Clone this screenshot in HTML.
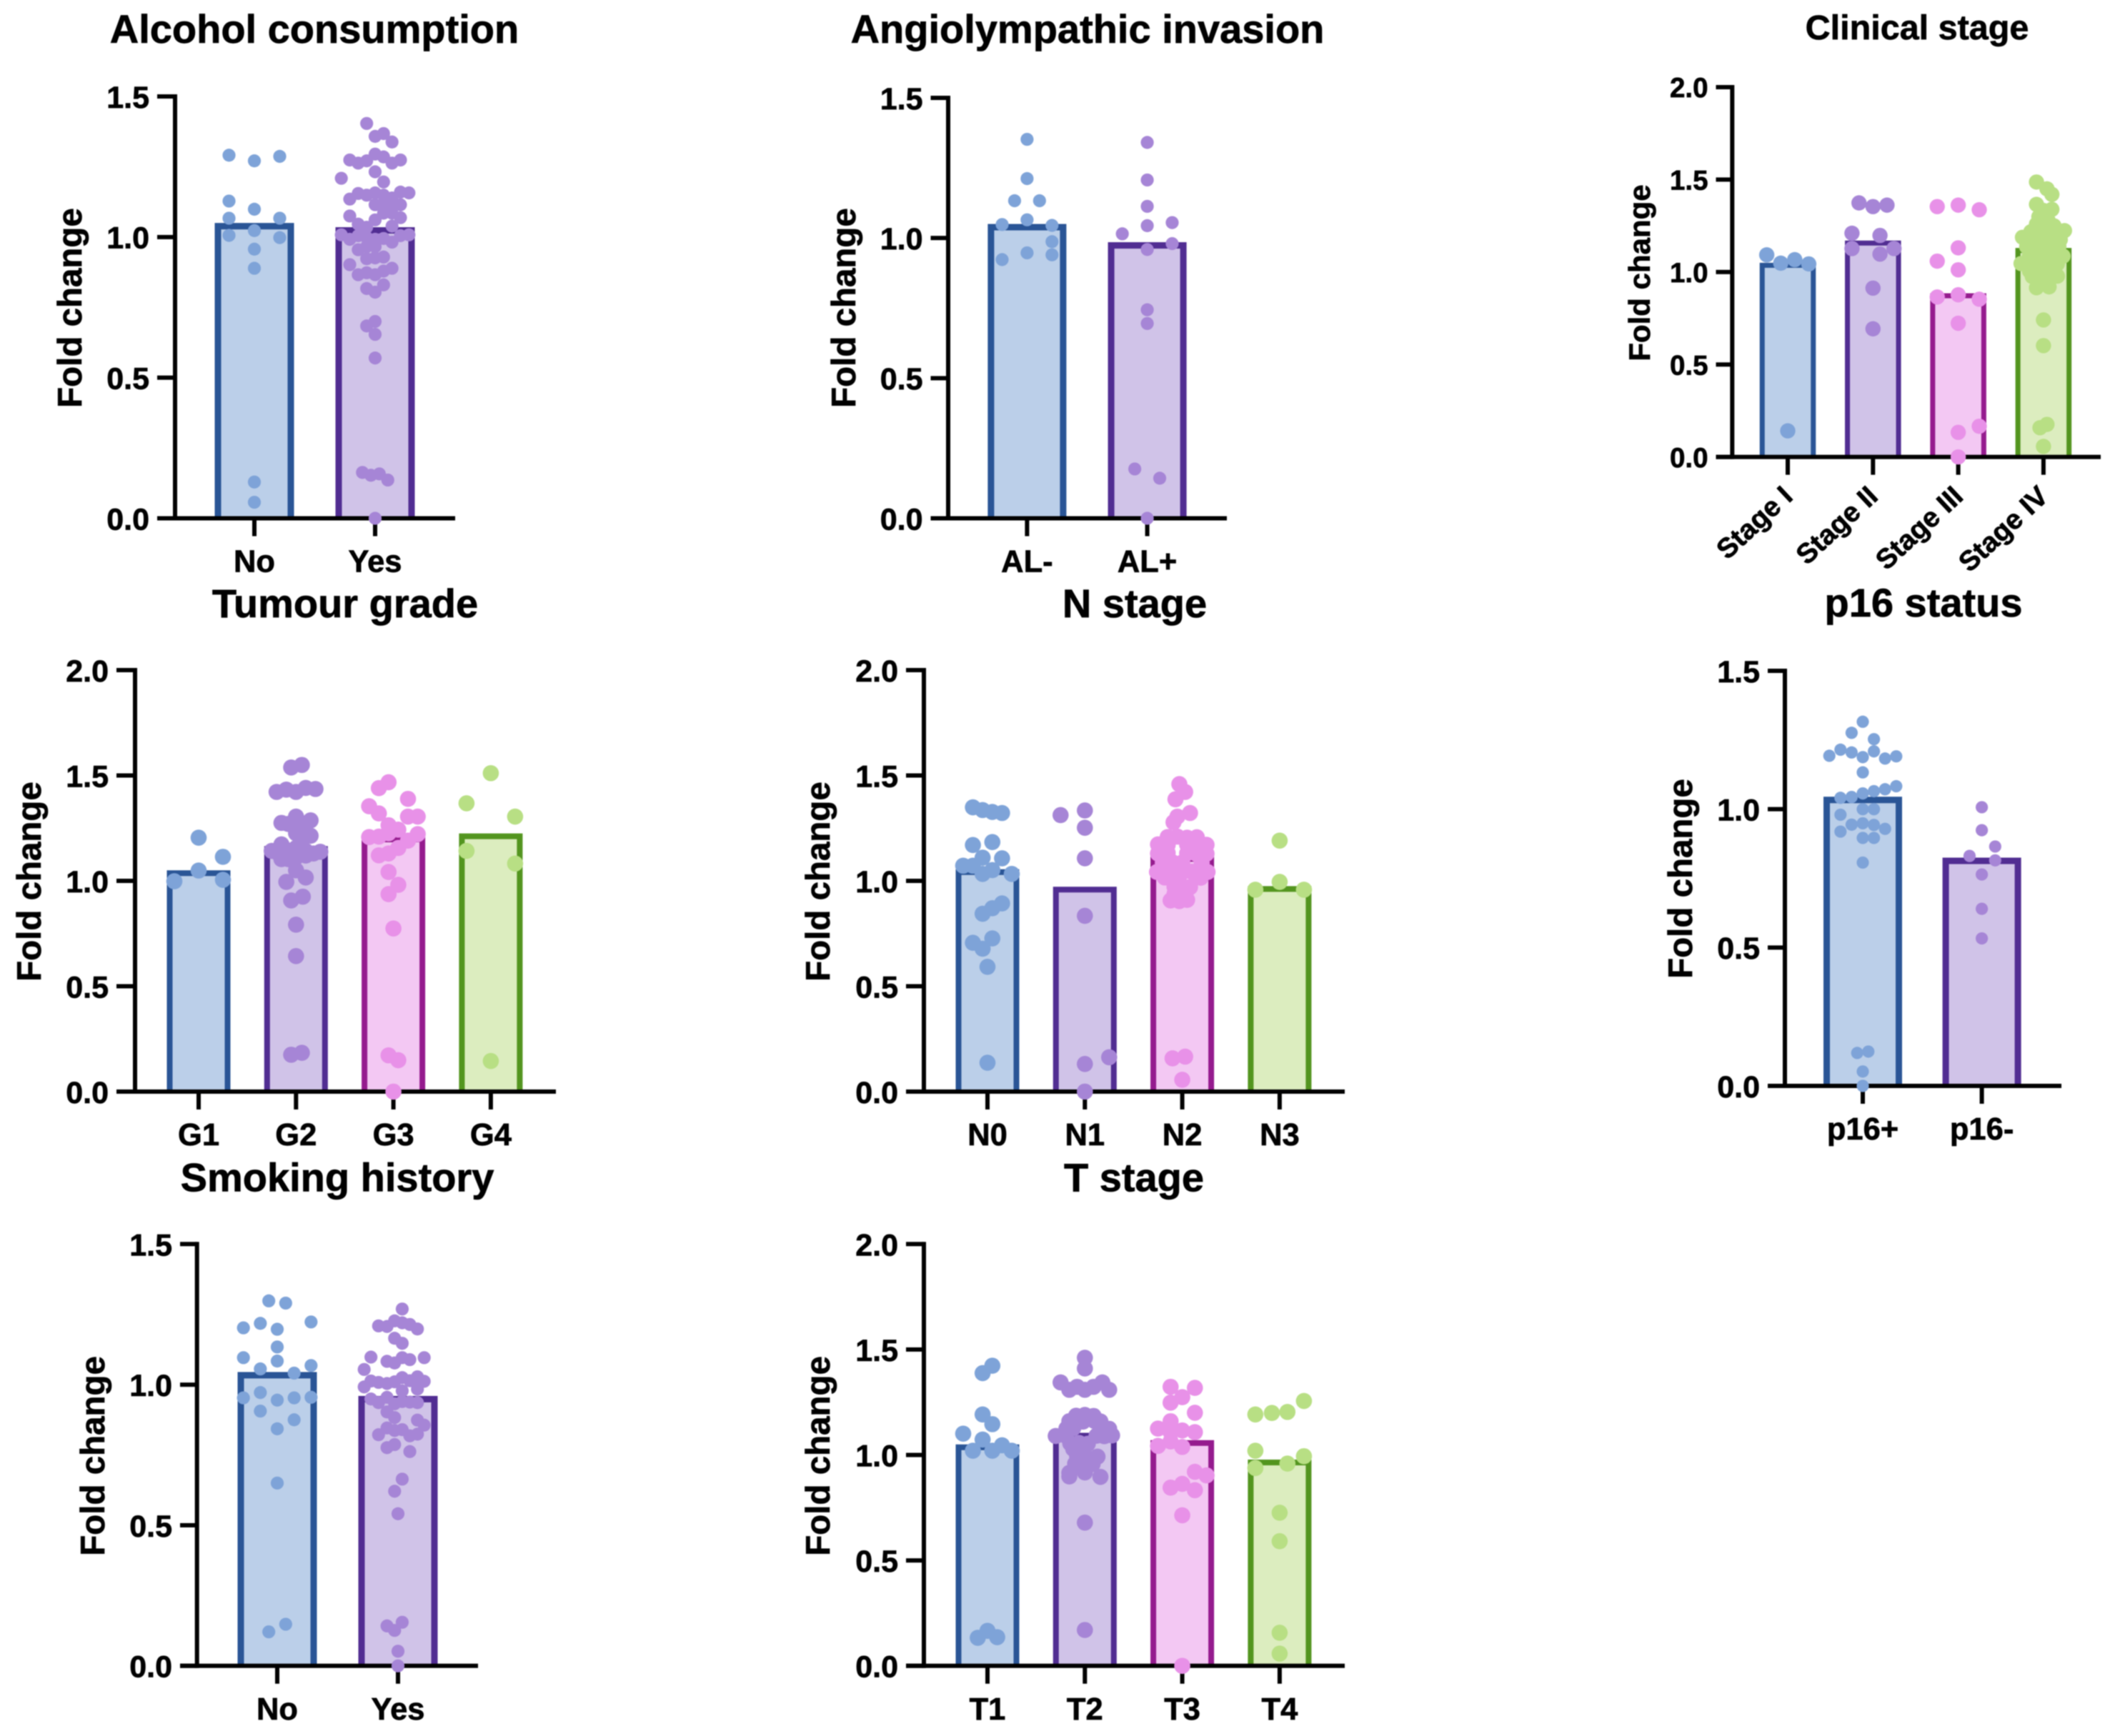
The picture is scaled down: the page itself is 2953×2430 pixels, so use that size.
<!DOCTYPE html>
<html lang="en">
<head>
<meta charset="utf-8">
<title>Fold change by clinical parameter</title>
<style>
html,body{margin:0;padding:0;background:#fff;}
#figure{display:block;width:2953px;height:2430px;filter:blur(0.9px);font-family:"Liberation Sans",Arial,sans-serif;font-weight:bold;fill:#000;}
#figure text{stroke:#000;stroke-width:0.7px;}
</style>
</head>
<body>
<svg id="figure" xmlns="http://www.w3.org/2000/svg" width="2953" height="2430" viewBox="0 0 2953 2430"></svg>
<script>
/* ---------- shared axis tick arrays ---------- */
const ticksTo15 = [0, 0.5, 1.0, 1.5];
const ticksTo20 = [0, 0.5, 1.0, 1.5, 2.0];
const yAxisLabel = "Fold change";

/* ---------- Alcohol consumption ---------- */
const alcoholCategories = ["No", "Yes"];
const alcoholMeans = [1.05, 1.035];
const alcoholNoValues = [1.291,1.271,1.287,1.128,1.099,1.067,1.067,1.023,1.006,0.998,0.957,0.889,0.129,0.057];
const alcoholNoSlots = [-3,0,3,-3,0,-3,3,0,-3,3,0,0,0,0];
const alcoholYesValues = [1.404,1.358,1.368,1.338,1.274,1.263,1.271,1.295,1.285,1.263,1.274,1.209,1.232,1.196,1.135,1.155,1.149,1.157,1.149,1.139,1.160,1.157,1.115,1.119,1.105,1.115,1.075,1.085,1.085,1.069,1.061,1.046,1.035,1.039,1.008,0.992,1.005,0.998,0.992,0.995,0.982,1.005,1.008,0.955,0.966,0.966,0.923,0.926,0.929,0.902,0.866,0.873,0.866,0.879,0.889,0.817,0.804,0.830,0.684,0.700,0.654,0.570,0.163,0.153,0.158,0.136,0];
const alcoholYesSlots = [-1,0,1,2,-3,-2,-1,0,1,2,3,-4,0,1,-3,-2,-1,0,1,2,3,4,0,1,2,3,-3,1,2,3,0,-2,-1,2,-4,-3,-2,-1,0,1,2,3,4,-2,-1,0,-1,0,1,-3,-2,-1,0,1,2,-1,0,1,-1,0,0,0,-1.5,-0.5,0.5,1.5,0];

/* ---------- Angiolympathic invasion ---------- */
const invasionCategories = ["AL-", "AL+"];
const invasionMeans = [1.05, 0.985];
const invasionNegValues = [1.352,1.212,1.133,1.133,1.065,1.048,1.045,0.987,0.94,0.947,0.923];
const invasionNegSlots = [0,0,-1,1,0,-2,2,2,2,0,-2];
const invasionPosValues = [1.341,1.207,1.113,1.044,1.055,1.015,0.98,0.959,0.744,0.695,0.176,0.143,0];
const invasionPosSlots = [0,0,0,0,2,-2,2,0,0,0,-1,1,0];

/* ---------- Clinical stage ---------- */
const clinicalCategories = ["Stage I", "Stage II", "Stage III", "Stage IV"];
const clinicalMeans = [1.05, 1.17, 0.885, 1.13];
const clinicalS1Values = [1.093,1.048,1.067,1.044,0.141];
const clinicalS1Slots = [-1.5,-0.5,0.5,1.5,0];
const clinicalS2Values = [1.374,1.354,1.362,1.21,1.198,1.127,1.127,1.097,0.913,0.693];
const clinicalS2Slots = [-1,0,1,-1.5,0.5,-1.5,1.5,0.5,0,0];
const clinicalS3Values = [1.354,1.362,1.337,1.131,1.059,1.012,0.865,0.877,0.853,0.723,0.166,0.133,0];
const clinicalS3Slots = [-1.5,0,1.5,0,-1.5,0,-1.5,0,1.5,0,1.5,0,0];
const clinicalS4Values = [1.487,1.45,1.42,1.366,1.339,1.333,1.299,1.279,1.259,1.262,1.25,1.224,1.218,1.215,1.219,1.188,1.178,1.176,1.178,1.175,1.137,1.14,1.135,1.138,1.087,1.085,1.088,1.086,1.046,1.05,1.044,1.048,1.045,1.006,1.01,1.004,1.008,0.976,0.98,0.974,0.978,0.915,0.92,0.741,0.602,0.176,0.158,0.057];
const clinicalS4Slots = [-0.5,0.25,0.6,-0.5,0.6,0,-0.33,0.33,-0.5,0.2,0.75,1.5,-0.9,0.1,0.9,-1.5,-1,0,0.7,1.2,-1.2,-0.4,0.4,1.1,-1,0,0.6,1.4,-1.6,-1,-0.3,0.4,1,-1,-0.4,0.2,0.8,-0.8,-0.2,0.4,1,-0.5,0.4,0,0,0.25,-0.25,0];

/* ---------- Tumour grade ---------- */
const gradeCategories = ["G1", "G2", "G3", "G4"];
const gradeMeans = [1.05, 1.165, 1.21, 1.225];
const gradeG1Values = [1.205,1.114,1.049,0.998,1.005];
const gradeG1Slots = [0,2.5,0,-2.5,2.5];
const gradeG2Values = [1.538,1.55,1.422,1.433,1.422,1.441,1.436,1.275,1.305,1.287,1.27,1.258,1.226,1.214,1.208,1.173,1.142,1.13,1.147,1.156,1.142,1.13,1.138,1.103,1.112,1.12,1.103,1.05,1.016,0.995,0.925,0.907,0.792,0.643,0.175,0.184];
const gradeG2Slots = [-0.5,0.6,-2,-1,0,1,2,-1.5,0,1.5,-0.8,0.7,0,1.5,0.7,-1.5,-2.5,-1.8,-1,0,1,1.8,2.5,-0.8,0,1,-1.5,0,1,-1,0.7,-0.5,0,0,-0.5,0.6];
const gradeG3Values = [1.44,1.468,1.389,1.354,1.32,1.305,1.305,1.264,1.243,1.21,1.208,1.226,1.222,1.191,1.156,1.13,1.121,1.042,0.981,0.937,0.774,0.172,0.149,0];
const gradeG3Slots = [-1.5,-0.5,1.5,-2.5,-1.5,1.5,2.5,-0.5,0.5,-1.5,-2.5,-0.5,2.5,1.5,0.5,-0.5,-1.5,-0.5,0.5,-0.5,0,-0.5,0.5,0];
const gradeG4Values = [1.511,1.368,1.305,1.142,1.082,0.145];
const gradeG4Slots = [0,-2.5,2.5,-2.5,2.5,0];

/* ---------- N stage ---------- */
const nStageCategories = ["N0", "N1", "N2", "N3"];
const nStageMeans = [1.055, 0.972, 1.118, 0.975];
const nStageN0Values = [1.349,1.336,1.327,1.322,1.17,1.184,1.11,1.107,1.072,1.072,1.051,1.033,1.033,0.893,0.87,0.844,0.727,0.706,0.678,0.592,0.137];
const nStageN0Slots = [-1.5,-0.5,0.5,1.5,-1.5,0.5,-0.5,1.5,-2.5,-1.5,0.5,-0.5,2.5,1.5,0.5,-0.5,0.5,-1.5,-0.5,0,0];
const nStageN1Values = [1.312,1.334,1.252,1.107,0.834,0.163,0.131,0];
const nStageN1Slots = [-2.5,0,0,0,0,2.5,0,0];
const nStageN2Values = [1.459,1.422,1.387,1.322,1.305,1.278,1.208,1.21,1.205,1.207,1.173,1.17,1.172,1.176,1.171,1.13,1.133,1.131,1.127,1.129,1.086,1.088,1.087,1.085,1.042,1.04,1.041,1.043,1.042,1.016,1.014,1.015,0.972,0.975,0.97,0.937,0.94,0.907,0.904,0.91,0.158,0.166,0.056];
const nStageN2Slots = [-0.3,0.3,-0.7,0.8,-0.5,-0.9,-1.5,-0.5,0.5,1.5,-2.5,-1.5,0.5,1.5,2.5,-2.5,-1.5,0.5,1.5,2.5,-2,-1,0,2,-2.6,-1,0,1,2.6,-1.8,-0.4,1.9,-0.8,0,0.8,-0.8,0.2,-1.2,-0.3,0.5,-1,0.3,0];
const nStageN3Values = [1.191,0.958,0.995,0.958];
const nStageN3Slots = [0,-2.5,0,2.5];

/* ---------- p16 status ---------- */
const p16Categories = ["p16+", "p16-"];
const p16Means = [1.045, 0.825];
const p16PosValues = [1.316,1.276,1.253,1.193,1.215,1.205,1.188,1.209,1.183,1.191,1.133,1.083,1.072,1.065,1.057,1.044,1.041,1.0,1.0,0.98,0.944,0.949,0.943,0.929,0.919,0.896,0.896,0.807,0.119,0.124,0.052,0];
const p16PosSlots = [0,-1,1,-3,-2,-1,0,1,2,3,0,3,2,1,0,-1,-2,0,1,-2,-1,0,1,2,-2,0,1,0,-0.5,0.5,0,0];
const p16NegValues = [1.007,0.924,0.865,0.831,0.815,0.764,0.64,0.533];
const p16NegSlots = [0,0,1.2,-1.1,1.2,0,0,0];

/* ---------- Smoking history ---------- */
const smokingCategories = ["No", "Yes"];
const smokingMeans = [1.045, 0.96];
const smokingNoValues = [1.298,1.29,1.202,1.218,1.197,1.223,1.134,1.096,1.084,1.068,1.056,1.041,0.972,0.953,0.945,0.953,0.955,0.906,0.875,0.843,0.65,0.148,0.121];
const smokingNoSlots = [-1,1,-4,-2,0,4,0,-4,0,4,-2,2,-2,-4,0,2,4,-2,2,0,0,1,-1];
const smokingYesValues = [1.269,1.209,1.207,1.227,1.22,1.214,1.198,1.165,1.147,1.098,1.083,1.077,1.096,1.089,1.096,1.054,0.992,1.013,1.008,1.004,1.01,1.025,1.014,1.028,1.012,0.984,0.978,0.949,0.936,0.955,0.932,0.94,0.938,0.936,0.903,0.883,0.874,0.856,0.822,0.846,0.837,0.84,0.818,0.824,0.776,0.787,0.762,0.664,0.621,0.541,0.155,0.142,0.126,0.052,0];
const smokingYesSlots = [0.5,-2.3,-1.3,-0.4,0.5,1.4,2.3,-0.4,0.5,-3.2,-1.3,-0.4,0.5,1.4,3.1,-4,-4,-3.2,-2.3,-1.3,-0.4,0.5,1.4,2.3,3.1,2.3,0.5,-3.2,-2.3,-1.3,-0.4,0.5,1.4,2.3,-1.3,-0.4,2.3,3.1,-2.3,-1.3,-0.4,0.5,1.4,2.3,-1.3,-0.4,1.4,0.5,-0.4,0,0.5,-1.3,-0.4,0,0];

/* ---------- T stage ---------- */
const tStageCategories = ["T1", "T2", "T3", "T4"];
const tStageMeans = [1.05, 1.105, 1.07, 0.978];
const tStageT1Values = [1.423,1.388,1.192,1.146,1.101,1.073,1.02,1.02,1.046,1.02,0.133,0.166,0.136];
const tStageT1Slots = [0.5,-0.5,-0.5,0.5,-2.5,-0.5,-1.5,0.5,1.5,2.5,-1,0,1];
const tStageT2Values = [1.461,1.41,1.344,1.309,1.323,1.309,1.323,1.344,1.309,1.186,1.19,1.185,1.16,1.158,1.161,1.159,1.125,1.127,1.124,1.09,1.092,1.091,1.089,1.093,1.055,1.057,1.053,1.029,1.027,0.994,0.996,0.992,0.959,0.961,0.957,0.915,0.917,0.898,0.896,0.679,0.17];
const tStageT2Slots = [0,0,-2.5,-1.6,-0.8,0,0.9,1.8,2.5,-0.9,0,0.9,-1.6,-0.2,1,1.6,-1.9,-1.2,2.5,-3,-2,1.2,2,2.8,-1.5,-0.6,0.3,-1.2,-0.3,-0.8,0,1.3,-1,-0.2,0.8,-1.6,0,-1.6,1.6,0,0];
const tStageT3Values = [1.323,1.318,1.274,1.248,1.2,1.16,1.125,1.108,1.116,1.108,1.043,1.064,1.038,0.903,0.92,0.845,0.863,0.833,0.714,0];
const tStageT3Slots = [-1.2,1.3,0,-1.2,1.3,-1.2,-2.5,-1.2,0,1.3,-2.5,-1.2,0,2.5,1.3,-1.2,0,1.3,0,0];
const tStageT4Values = [1.192,1.199,1.204,1.256,1.02,0.994,0.938,0.959,0.726,0.591,0.157,0.058];
const tStageT4Slots = [-2.5,-0.8,0.8,2.5,-2.5,2.5,-2.5,0.8,0,0,0,0];

/* ---------- series colours ---------- */
const borderColors = ["#2a5596", "#512d92", "#951b8e", "#53951f"];
const fillColors = ["#bbcfe9", "#d0c3e8", "#f3c8f3", "#dcedbf"];
const dotColors = ["#7ea3d8", "#a685d6", "#e891e8", "#b8df84"];

/* ---------- panels: data references plus plot frame ---------- */
const panels = [
  {name:"alcohol", title:"Alcohol consumption", titleX:440, titleY:60, titleSize:56,
   categories:alcoholCategories, means:alcoholMeans, values:[alcoholNoValues,alcoholYesValues], slots:[alcoholNoSlots,alcoholYesSlots], ticks:ticksTo15,
   axisX:245, top:135, base:725.5, tickLeft:220, right:637, firstX:356, stepX:169, barW:111, barStroke:9, dotR:9.1, unit:11.83,
   labelX:114, labelY:431, labelSize:47.5, tickSize:43, catSize:43.5},
  {name:"invasion", title:"Angiolympathic invasion", titleX:1522, titleY:60, titleSize:56,
   categories:invasionCategories, means:invasionMeans, values:[invasionNegValues,invasionPosValues], slots:[invasionNegSlots,invasionPosSlots], ticks:ticksTo15,
   axisX:1327, top:137, base:725.5, tickLeft:1302.5, right:1717, firstX:1437.4, stepX:168.2, barW:110, barStroke:9, dotR:9.1, unit:17.45,
   labelX:1197, labelY:431, labelSize:47.5, tickSize:43, catSize:43.5},
  {name:"clinical-stage", title:"Clinical stage", titleX:2683, titleY:55, titleSize:48.5,
   categories:clinicalCategories, means:clinicalMeans, values:[clinicalS1Values,clinicalS2Values,clinicalS3Values,clinicalS4Values], slots:[clinicalS1Slots,clinicalS2Slots,clinicalS3Slots,clinicalS4Slots], ticks:ticksTo20,
   axisX:2424.3, top:122, base:639.6, tickLeft:2401.5, right:2940, firstX:2502, stepX:119.3, barW:78.5, barStroke:7, dotR:10.7, unit:19.6,
   labelX:2309, labelY:382, labelSize:42, tickSize:38.5, catSize:39, rotated:true},
  {name:"tumour-grade", title:"Tumour grade", titleX:483, titleY:864, titleSize:56,
   categories:gradeCategories, means:gradeMeans, values:[gradeG1Values,gradeG2Values,gradeG3Values,gradeG4Values], slots:[gradeG1Slots,gradeG2Slots,gradeG3Slots,gradeG4Slots], ticks:ticksTo20,
   axisX:189, top:938, base:1528, tickLeft:163, right:778, firstX:278, stepX:136.3, barW:89, barStroke:8, dotR:11.3, unit:13.6,
   labelX:57, labelY:1234, labelSize:47.5, tickSize:43, catSize:43.5},
  {name:"n-stage", title:"N stage", titleX:1588, titleY:864, titleSize:56,
   categories:nStageCategories, means:nStageMeans, values:[nStageN0Values,nStageN1Values,nStageN2Values,nStageN3Values], slots:[nStageN0Slots,nStageN1Slots,nStageN2Slots,nStageN3Slots], ticks:ticksTo20,
   axisX:1293, top:938, base:1528, tickLeft:1268, right:1882, firstX:1382, stepX:136.3, barW:89, barStroke:8, dotR:11.3, unit:13.6,
   labelX:1161, labelY:1234, labelSize:47.5, tickSize:43, catSize:43.5},
  {name:"p16-status", title:"p16 status", titleX:2692, titleY:863, titleSize:56,
   categories:p16Categories, means:p16Means, values:[p16PosValues,p16NegValues], slots:[p16PosSlots,p16NegSlots], ticks:ticksTo15,
   axisX:2498, top:939, base:1520, tickLeft:2474, right:2885, firstX:2607, stepX:166.6, barW:110, barStroke:9, dotR:8.6, unit:15.6,
   labelX:2368, labelY:1230, labelSize:47.5, tickSize:43, catSize:43.5},
  {name:"smoking", title:"Smoking history", titleX:472, titleY:1667.5, titleSize:56,
   categories:smokingCategories, means:smokingMeans, values:[smokingNoValues,smokingYesValues], slots:[smokingNoSlots,smokingYesSlots], ticks:ticksTo15,
   axisX:275.7, top:1741.4, base:2331.8, tickLeft:252, right:669, firstX:388, stepX:169, barW:111, barStroke:9, dotR:9.1, unit:11.83,
   labelX:146, labelY:2038, labelSize:47.5, tickSize:43, catSize:43.5},
  {name:"t-stage", title:"T stage", titleX:1587, titleY:1667.5, titleSize:56,
   categories:tStageCategories, means:tStageMeans, values:[tStageT1Values,tStageT2Values,tStageT3Values,tStageT4Values], slots:[tStageT1Slots,tStageT2Slots,tStageT3Slots,tStageT4Slots], ticks:ticksTo20,
   axisX:1293, top:1741.4, base:2331.8, tickLeft:1268, right:1882, firstX:1382, stepX:136.3, barW:89, barStroke:8, dotR:11.3, unit:13.6,
   labelX:1161, labelY:2038, labelSize:47.5, tickSize:43, catSize:43.5}
];

const SVG_NS = "http://www.w3.org/2000/svg";
const figure = document.getElementById("figure");

function make(tag, parent, attrs) {
  const el = document.createElementNS(SVG_NS, tag);
  for (const k in attrs) el.setAttribute(k, attrs[k]);
  parent.appendChild(el);
  return el;
}

function drawPanel(p) {
  const maxTick = p.ticks[p.ticks.length - 1];
  const yScale = function (v) { return p.base - (v / maxTick) * (p.base - p.top); };
  const xScale = function (i) { return p.firstX + i * p.stepX; };

  const g = make("g", figure, {});
  
  

  const title = make("text", g, {x:p.titleX, y:p.titleY, "text-anchor":"middle", "font-size":p.titleSize});
  title.textContent = p.title;
  
  

  const yLabel = make("text", g, {x:0, y:0, "text-anchor":"middle", "font-size":p.labelSize,
    transform:"translate(" + p.labelX + " " + p.labelY + ") rotate(-90)"});
  yLabel.textContent = yAxisLabel;
  
  

  /* bars */
  p.means.forEach(function (mean, i) {
    const cx = xScale(i), half = p.barW / 2, s = p.barStroke, topY = yScale(mean);
    const fill = make("rect", g, {x:cx - half, y:topY, width:p.barW, height:p.base - topY, fill:fillColors[i]});
    
    
    const edge = make("path", g, {
      d:"M" + (cx - half + s / 2) + " " + p.base + "V" + (topY + s / 2) + "H" + (cx + half - s / 2) + "V" + p.base,
      fill:"none", stroke:borderColors[i], "stroke-width":s});
    
    
  });

  /* axes */
  const yAxis = make("line", g, {x1:p.axisX, x2:p.axisX, y1:p.top - 3, y2:p.base + 3, stroke:"#000", "stroke-width":6});
  
  
  const xAxis = make("line", g, {x1:p.tickLeft, x2:p.right, y1:p.base, y2:p.base, stroke:"#000", "stroke-width":6});
  
  

  p.ticks.forEach(function (t) {
    const y = yScale(t);
    const mark = make("line", g, {x1:p.tickLeft, x2:p.axisX, y1:y, y2:y, stroke:"#000", "stroke-width":6});
    
    
    const lab = make("text", g, {x:p.tickLeft - 11, y:y + p.tickSize * 0.37, "text-anchor":"end", "font-size":p.tickSize});
    lab.textContent = t.toFixed(1);
    
    
  });

  p.categories.forEach(function (c, i) {
    const x = xScale(i);
    const mark = make("line", g, {x1:x, x2:x, y1:p.base, y2:p.base + 25, stroke:"#000", "stroke-width":6});
    
    
    let lab;
    if (p.rotated) {
      lab = make("text", g, {x:0, y:0, "text-anchor":"end", "font-size":p.catSize,
        transform:"translate(" + (x + 9) + " " + (p.base + 58) + ") rotate(-43)"});
    } else {
      lab = make("text", g, {x:x, y:p.base + 75, "text-anchor":"middle", "font-size":p.catSize});
    }
    lab.textContent = c;
    
    
  });

  /* points */
  p.values.forEach(function (series, i) {
    const slots = p.slots[i];
    series.forEach(function (v, j) {
      const dot = make("circle", g, {cx:xScale(i) + slots[j] * p.unit, cy:yScale(v), r:p.dotR, fill:dotColors[i]});
      
      
    });
  });
}

panels.forEach(drawPanel);
</script>
</body>
</html>
